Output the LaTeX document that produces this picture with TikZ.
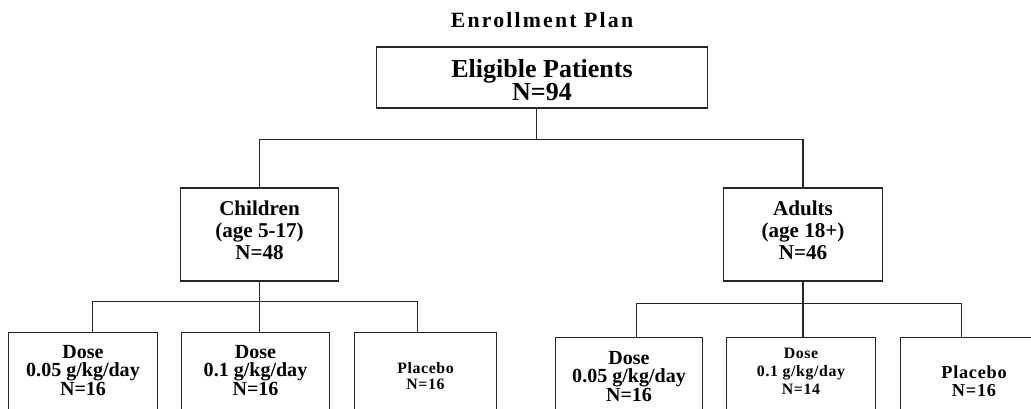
\documentclass[tikz,border=0pt]{standalone}
\usepackage{fontspec}
\setmainfont{Liberation Serif}
\newfontfamily\spaced[LetterSpace=10]{Liberation Serif}
\newfontfamily\lightspaced[LetterSpace=4]{Liberation Serif}
\usetikzlibrary{positioning}
\begin{document}
\begin{tikzpicture}[
        node distance=1cm,
        box/.style={rectangle, draw=black!85, line width=0.7pt, align=center, inner xsep=0pt},
        cohort/.style={box, inner ysep=0pt, text depth=0.16cm, minimum width=3.17cm, minimum height=1.86cm, font=\bfseries\fontsize{12}{12.5}\selectfont},
        arm/.style={box, text depth=1.6cm, minimum width=2.96cm, font=\bfseries\fontsize{11.4}{10.5}\selectfont},
        smallarm/.style={arm, font=\lightspaced\bfseries\fontsize{9}{10.2}\selectfont},
        link/.style={draw=black!85, line width=0.7pt}
    ]
        \useasboundingbox (0,0) rectangle (20.62,-8.16);

        \node (title) at (10.84,-0.40) {\spaced\bfseries\fontsize{12.4}{13}\selectfont Enrollment Plan};
        \node (elig) [box, inner ysep=0pt, text height=0.94cm, below of=title, yshift=-0.15cm, minimum width=6.62cm, minimum height=1.22cm, font=\bfseries\fontsize{14.8}{13.4}\selectfont] {Eligible Patients\\N=94};

        \node (kids) [cohort, below of=elig, xshift=-5.65cm, yshift=-2.14cm] {Children\\(age 5-17)\\N=48};
        \node (adults) [cohort, below of=elig, xshift=5.22cm, yshift=-2.14cm] {Adults\\(age 18+)\\N=46};

        \node (kidlow) [arm, below of=kids, anchor=north, xshift=-3.53cm, yshift=-0.95cm, inner ysep=0.25cm, minimum width=2.98cm] {Dose\\0.05 g/kg/day\\N=16};
        \node (kidhigh) [arm, below of=kids, anchor=north, xshift=-0.08cm, yshift=-0.95cm, inner ysep=0.25cm] {Dose\\0.1 g/kg/day\\N=16};
        \node (kidplac) [smallarm, below of=kids, anchor=north, xshift=3.32cm, yshift=-0.95cm, inner ysep=0.59cm, minimum width=2.84cm, font=\lightspaced\bfseries\fontsize{9}{9.2}\selectfont] {Placebo\\N=16};

        \node (adultlow) [arm, below of=adults, anchor=north, xshift=-3.48cm, yshift=-1.05cm, inner ysep=0.27cm, minimum width=2.94cm] {Dose\\0.05 g/kg/day\\N=16};
        \node (adulthigh) [smallarm, below of=adults, anchor=north, xshift=-0.04cm, yshift=-1.05cm, inner ysep=0.21cm, minimum width=2.98cm] {Dose\\0.1 g/kg/day\\N=14};
        \node (adultplac) [smallarm, below of=adults, anchor=north, xshift=3.42cm, yshift=-1.05cm, inner ysep=0.57cm, minimum width=2.94cm, font=\lightspaced\bfseries\fontsize{10.4}{10.2}\selectfont] {Placebo\\N=16};

        \coordinate (split) at ([xshift=-0.11cm, yshift=-0.62cm]elig.south);
        \draw [link] (split |- elig.south) -- (split);
        \draw [link] (kids.north) |- (split) -| (adults.north);

        \coordinate (kidsplit) at ([yshift=-0.4cm]kids.south);
        \draw [link] (kids.south) -- (kidsplit);
        \draw [link] ([xshift=0.19cm]kidlow.north) |- (kidsplit) -| ([xshift=-0.16cm]kidplac.north);
        \draw [link] (kidsplit) -- (kidsplit |- kidhigh.north);

        \coordinate (adultsplit) at ([yshift=-0.44cm]adults.south);
        \draw [link] (adults.south) -- (adultsplit);
        \draw [link] ([xshift=0.15cm]adultlow.north) |- (adultsplit) -| ([xshift=-0.25cm]adultplac.north);
        \draw [link] (adultsplit) -- (adultsplit |- adulthigh.north);
    \end{tikzpicture}
\end{document}
